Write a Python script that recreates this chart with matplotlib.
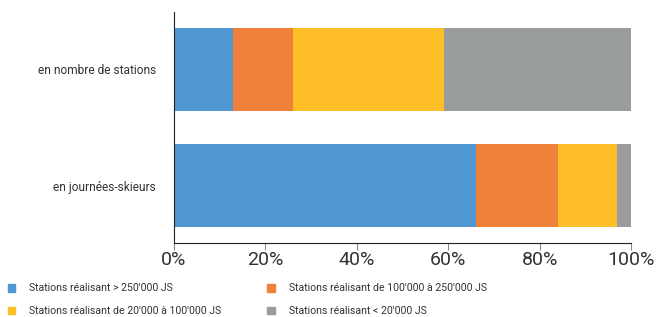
import numpy as np
import matplotlib.pyplot as plt
from matplotlib.patches import Patch

# Répartition des stations (en %)
categories = ['en journées-skieurs', 'en nombre de stations']
series_noms = ["Stations réalisant > 250'000 JS",
               "Stations réalisant de 100'000 à 250'000 JS",
               "Stations réalisant de 20'000 à 100'000 JS",
               "Stations réalisant < 20'000 JS"]
plus_250k = [66, 13]
de_100k_250k = [18, 13]
de_20k_100k = [13, 33]
moins_20k = [3, 41]
couleurs = ['#5097D1', '#F0813B', '#FDBE28', '#9A9D9E']

plt.rcParams['font.family'] = ['Roboto', 'DejaVu Sans']

fig = plt.figure(figsize=(6.57, 3.17), dpi=100)
ax = fig.add_axes([0.2648, 0.2344, 0.6956, 0.7276])

y = np.arange(len(categories))
gauche = np.zeros(len(categories))
for valeurs, couleur in zip([plus_250k, de_100k_250k, de_20k_100k, moins_20k], couleurs):
    ax.barh(y, valeurs, left=gauche, height=0.712, color=couleur)
    gauche += np.array(valeurs)

ax.set_xlim(0, 100)
ax.set_ylim(-0.49, 1.49)
ax.set_yticks(y)
ax.set_yticklabels(categories, fontsize=8.6, color='#333333')
ax.tick_params(axis='y', length=0, pad=13)
ax.set_xticks(np.arange(0, 101, 20))
ax.set_xticklabels([f'{v}%' for v in range(0, 101, 20)], fontsize=14, color='#333333')
ax.tick_params(axis='x', length=5, width=0.8, color='#888888', pad=1)
for cote in ['top', 'right']:
    ax.spines[cote].set_visible(False)
ax.spines['left'].set_color('#222222')
ax.spines['bottom'].set_color('#222222')

# Légende (ordre pour remplir ligne par ligne)
ordre = [0, 2, 1, 3]
poignees = [Patch(color=couleurs[i], label=series_noms[i]) for i in ordre]
fig.legend(handles=poignees, loc='upper left', bbox_to_anchor=(0.005, 0.119),
           ncol=2, frameon=False, fontsize=7.6, handlelength=0.72, handleheight=0.72,
           handletextpad=1.3, columnspacing=4.4, labelspacing=1.22, labelcolor='#333333',
           borderaxespad=0)

fig.savefig('out.png', dpi=100)
